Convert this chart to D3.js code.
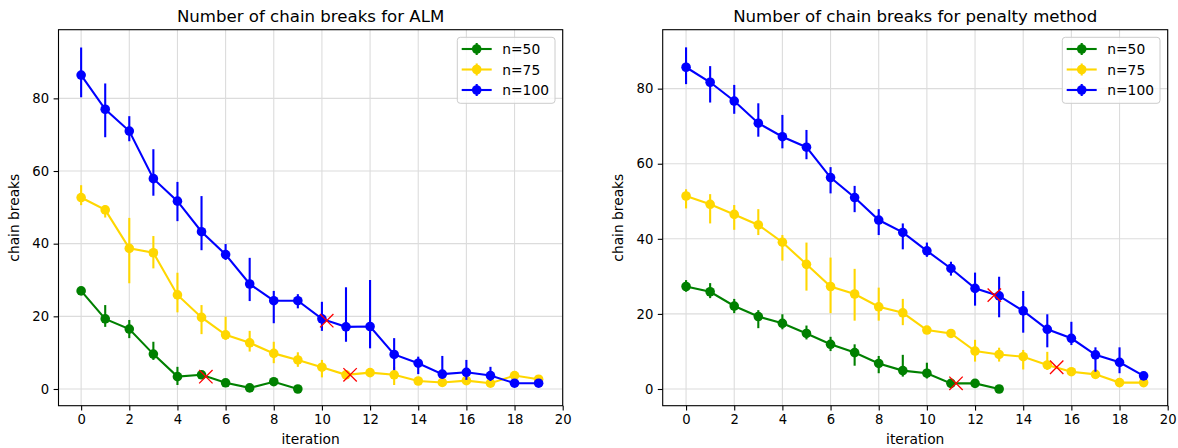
<!DOCTYPE html>
<html><head><meta charset="utf-8">
<script src="https://cdn.jsdelivr.net/npm/d3@7"></script>
<style>
html,body{margin:0;padding:0;background:#fff;}
svg{display:block;font-family:"DejaVu Sans",sans-serif;}
</style></head>
<body>
<svg id="chart" width="1178" height="448"></svg>
<script>
// ---------- data ----------
const titles = ["Number of chain breaks for ALM", "Number of chain breaks for penalty method"];
const seriesNames = ["n=50", "n=75", "n=100"];
const seriesColors = ["green", "gold", "blue"];
const xTicks = [0, 2, 4, 6, 8, 10, 12, 14, 16, 18, 20];
const yTicks = [0, 20, 40, 60, 80];
const iterations = [0,1,2,3,4,5,6,7,8,9,10,11,12,13,14,15,16,17,18,19];

// ALM
const almMean50 = [27.0,19.3,16.5,9.6,3.4,3.9,1.7,0.3,2.0,0.0];
const almLo50   = [26.3,17.1,14.0,8.0,1.1,3.3,1.1,0.0,1.4,0.0];
const almHi50   = [27.7,23.1,19.0,13.0,6.1,4.5,2.3,0.6,2.6,0.0];
const almMean75 = [52.7,49.3,38.7,37.5,25.9,19.7,14.9,12.7,9.8,8.0,6.0,3.9,4.5,3.9,2.2,1.8,2.3,1.6,3.7,2.7];
const almLo75   = [50.6,47.2,29.1,33.2,21.1,15.1,13.5,10.3,7.1,6.1,3.2,3.0,3.5,1.1,1.5,1.0,1.5,0.8,3.0,2.0];
const almHi75   = [56.1,50.6,47.1,42.1,32.0,23.1,19.9,16.0,13.0,10.1,8.0,4.8,5.3,6.1,3.0,2.6,3.1,2.4,4.4,3.4];
const almMean100 = [86.4,77.0,71.0,57.9,51.7,43.3,37.0,28.9,24.3,24.3,19.3,17.1,17.2,9.5,7.1,4.1,4.6,3.7,1.6,1.6];
const almLo100   = [80.3,69.3,68.2,53.2,46.2,38.2,35.5,24.2,18.1,22.2,16.0,13.0,11.2,5.2,4.1,2.9,2.5,2.2,1.0,1.0];
const almHi100   = [94.0,84.1,75.1,66.0,57.0,53.1,39.9,36.1,27.0,26.1,24.0,28.0,30.0,14.0,8.9,9.1,8.0,6.1,2.2,2.2];
const almCrossX = [5.18, 10.2, 11.17];
const almCrossY = [3.4, 18.8, 3.9];

// penalty method
const penMean50 = [27.3,25.9,22.1,19.3,17.5,14.8,11.9,9.7,6.8,4.9,4.2,1.5,1.5,0.0];
const penLo50   = [25.9,24.2,20.2,16.2,15.9,13.2,10.1,6.2,4.2,3.3,2.8,1.0,1.0,0.0];
const penHi50   = [29.0,28.2,24.0,21.0,19.9,16.9,13.9,11.9,8.8,9.1,7.0,2.0,2.0,0.0];
const penMean75 = [51.4,49.2,46.5,43.7,39.1,33.2,27.3,25.3,21.9,20.3,15.7,14.8,10.1,9.2,8.6,6.4,4.6,3.9,1.7,1.7];
const penLo75   = [48.1,44.1,42.4,41.0,34.2,26.2,20.2,18.2,18.2,17.0,15.0,14.1,7.3,7.3,5.2,5.1,4.0,3.2,1.1,1.0];
const penHi75   = [53.2,51.9,49.0,47.9,41.0,39.0,35.0,32.0,27.0,24.0,16.4,15.5,13.1,11.0,10.4,9.9,5.3,4.6,2.3,2.4];
const penMean100 = [85.7,81.7,76.7,70.8,67.2,64.4,56.3,51.0,45.0,41.7,36.8,32.1,26.8,24.8,20.8,15.9,13.5,9.1,7.1,3.5];
const penLo100   = [81.2,76.3,73.3,67.2,64.1,61.2,52.1,47.1,41.0,37.2,35.2,30.2,22.2,19.1,15.0,11.1,11.7,4.6,4.2,2.9];
const penHi100   = [91.0,86.0,81.0,76.1,73.0,69.0,59.1,54.1,47.9,44.1,39.0,33.9,31.0,29.9,26.1,19.9,17.9,11.1,11.1,4.1];
const penCrossX = [11.21, 12.8, 15.39];
const penCrossY = [1.5, 25.0, 5.8];

const panels = [
  { title: titles[0], left: 58.5, right: 562.7, yDomain: [-4.6, 98.9], xDomain: [-0.94, 20],
    series: [[almMean50, almLo50, almHi50],[almMean75, almLo75, almHi75],[almMean100, almLo100, almHi100]],
    cx: almCrossX, cy: almCrossY },
  { title: titles[1], left: 662.7, right: 1167.7, yDomain: [-4.45, 95.7], xDomain: [-0.97, 20],
    series: [[penMean50, penLo50, penHi50],[penMean75, penLo75, penHi75],[penMean100, penLo100, penHi100]],
    cx: penCrossX, cy: penCrossY }
];

const plotTop = 29.7, plotBottom = 405.7;
const svg = d3.select("#chart");

panels.forEach(p => {
  const x = d3.scaleLinear().domain(p.xDomain).range([p.left, p.right]);
  const y = d3.scaleLinear().domain(p.yDomain).range([plotBottom, plotTop]);
  const g = svg.append("g");

  // grid
  g.append("g").selectAll("line").data(xTicks).join("line")
    .attr("x1", d => x(d)).attr("x2", d => x(d)).attr("y1", plotTop).attr("y2", plotBottom)
    .attr("stroke", "#dcdcdc").attr("stroke-width", 1.1);
  g.append("g").selectAll("line").data(yTicks).join("line")
    .attr("y1", d => y(d)).attr("y2", d => y(d)).attr("x1", p.left).attr("x2", p.right)
    .attr("stroke", "#dcdcdc").attr("stroke-width", 1.1);

  // axes
  const xAxis = d3.axisBottom(x).tickValues(xTicks).tickSize(4.9).tickPadding(4.5).tickFormat(d3.format("d"));
  const yAxis = d3.axisLeft(y).tickValues(yTicks).tickSize(4.9).tickPadding(4.5).tickFormat(d3.format("d"));
  const gx = g.append("g").attr("transform", `translate(0,${plotBottom})`).call(xAxis);
  const gy = g.append("g").attr("transform", `translate(${p.left},0)`).call(yAxis);
  [gx, gy].forEach(a => {
    a.select(".domain").remove();
    a.selectAll(".tick line").attr("stroke", "#000").attr("stroke-width", 1.1);
    a.selectAll(".tick text").attr("font-size", "13.2px").attr("fill", "#000")
      .attr("font-family", "DejaVu Sans, sans-serif");
  });

  const plot = g.append("g");
  p.series.forEach((s, si) => {
    const [mean, lo, hi] = s;
    const pts = mean.map((m, i) => ({ x: iterations[i], m, lo: lo[i], hi: hi[i] }));
    const col = seriesColors[si];
    plot.append("g").selectAll("line").data(pts).join("line")
      .attr("x1", d => x(d.x)).attr("x2", d => x(d.x))
      .attr("y1", d => y(d.lo)).attr("y2", d => y(d.hi))
      .attr("stroke", col).attr("stroke-width", 2.1);
    plot.append("path").datum(pts)
      .attr("d", d3.line().x(d => x(d.x)).y(d => y(d.m)))
      .attr("fill", "none").attr("stroke", col).attr("stroke-width", 2.1);
    plot.append("g").selectAll("circle").data(pts).join("circle")
      .attr("cx", d => x(d.x)).attr("cy", d => y(d.m)).attr("r", 4.8)
      .attr("fill", col);
  });

  // red crosses
  const crosses = p.cx.map((cx, i) => ({ x: cx, y: p.cy[i] }));
  const cs = 6.7;
  plot.append("g").selectAll("path").data(crosses).join("path")
    .attr("d", d => `M${x(d.x)-cs},${y(d.y)-cs}L${x(d.x)+cs},${y(d.y)+cs}M${x(d.x)-cs},${y(d.y)+cs}L${x(d.x)+cs},${y(d.y)-cs}`)
    .attr("stroke", "red").attr("stroke-width", 1.3).attr("fill", "none");

  // frame
  g.append("rect").attr("x", p.left).attr("y", plotTop).attr("width", p.right - p.left).attr("height", plotBottom - plotTop)
    .attr("fill", "none").attr("stroke", "#000").attr("stroke-width", 1.1);

  // title, labels
  const cxm = (p.left + p.right) / 2;
  g.append("text").attr("x", cxm).attr("y", 22).attr("text-anchor", "middle")
    .attr("font-size", "16.6px").text(p.title);
  g.append("text").attr("x", cxm).attr("y", 444).attr("text-anchor", "middle")
    .attr("font-size", "13.8px").text("iteration");
  g.append("text").attr("transform", `translate(${p.left - 40},${(plotTop + plotBottom) / 2}) rotate(-90)`)
    .attr("text-anchor", "middle").attr("font-size", "13.8px").text("chain breaks");

  // legend
  const lx = p.right - 105.4, ly = 37.3;
  const lg = g.append("g");
  lg.append("rect").attr("x", lx).attr("y", ly).attr("width", 97.7).attr("height", 66)
    .attr("rx", 3).attr("fill", "rgba(255,255,255,0.8)").attr("stroke", "#cccccc").attr("stroke-width", 1);
  seriesNames.forEach((name, i) => {
    const yy = 49 + i * 20.5;
    const col = seriesColors[i];
    lg.append("line").attr("x1", lx + 4.4).attr("x2", lx + 34.4).attr("y1", yy).attr("y2", yy)
      .attr("stroke", col).attr("stroke-width", 2.1);
    lg.append("line").attr("x1", lx + 19.4).attr("x2", lx + 19.4).attr("y1", yy - 6).attr("y2", yy + 6)
      .attr("stroke", col).attr("stroke-width", 2.1);
    lg.append("circle").attr("cx", lx + 19.4).attr("cy", yy).attr("r", 4.8).attr("fill", col);
    lg.append("text").attr("x", lx + 45).attr("y", yy + 5).attr("font-size", "13.8px").text(name);
  });
});
</script>
</body></html>
